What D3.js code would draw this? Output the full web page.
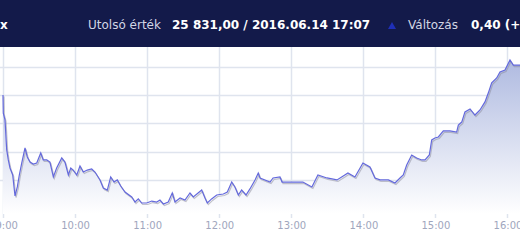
<!DOCTYPE html>
<html lang="hu">
<head>
<meta charset="UTF-8">
<title>Index intraday</title>
<style>
  body { margin: 0; background: #fff; }
  svg { display: block; }
</style>
</head>
<body>
<svg id="chart"></svg>
<script src="https://d3js.org/d3.v7.min.js"></script>
<script>
// intraday ticks
const times = ["9:00:00","9:00:15","9:01:40","9:03:05","9:04:25","9:05:50","9:08:05","9:10:00","9:11:55","9:13:35","9:15:35","9:18:20","9:20:15","9:22:30","9:25:15","9:28:05",
  "9:31:25","9:33:30","9:36:25","9:39:05","9:41:55","9:44:40","9:48:55","9:51:35","9:54:25","9:56:25","9:58:30",
  "10:01:25","10:04:05","10:06:50","10:10:10","10:13:50","10:16:35","10:20:45","10:23:30","10:26:50","10:29:40","10:32:25","10:35:10","10:38:00",
  "10:41:35","10:47:10","10:49:55","10:52:40","10:55:30","10:59:40",
  "11:03:50","11:08:00","11:10:40","11:13:30","11:17:35","11:20:55","11:23:10","11:27:25","11:31:30","11:35:40","11:38:25","11:43:25","11:45:25",
  "11:48:10","11:50:05","11:53:40","11:57:55",
  "12:03:25","12:06:45","12:10:25","12:13:05","12:15:55","12:18:40","12:22:20","12:25:35","12:29:50","12:32:30","12:34:00","12:42:20","12:44:50",
  "12:50:35","12:52:20",
  "13:01:25","13:09:40","13:17:10","13:22:10","13:29:40","13:38:05","13:47:10","13:53:00","13:59:40",
  "14:05:30","14:09:40","14:13:55","14:20:50","14:26:20","14:30:30","14:33:15","14:36:05","14:40:15","14:44:25","14:48:35","14:51:20","14:54:55",
  "14:56:55","14:59:35",
  "15:02:25","15:06:35","15:12:05","15:17:40","15:19:05","15:21:55","15:24:35","15:28:50","15:32:55","15:37:05","15:41:15","15:44:00","15:46:50",
  "15:51:00","15:53:45","15:57:55",
  "16:02:05","16:04:50","16:10:25"];
const values = [25810.2,25797.4,25792.5,25771.2,25764.1,25758.4,25753.4,25738.5,25744.9,25753.4,25761.9,25772.6,25766.2,25762.6,25761.2,25761.9,
  25769.0,25764.1,25764.1,25762.6,25752.0,25758.4,25765.5,25762.6,25753.4,25758.4,25756.9,
  25753.4,25759.8,25755.5,25756.9,25757.7,25755.5,25749.9,25744.2,25742.7,25752.0,25748.4,25749.9,25745.6,
  25741.3,25737.8,25734.2,25736.4,25733.5,25733.5,
  25734.9,25734.2,25735.6,25732.8,25734.2,25740.6,25734.2,25737.1,25735.6,25740.6,25737.8,25741.3,25742.7,
  25737.1,25733.5,25736.4,25739.2,
  25739.9,25741.3,25748.4,25744.9,25739.2,25742.7,25739.2,25743.5,25749.9,25754.8,25751.3,25748.4,25751.3,
  25752.0,25748.4,
  25748.4,25748.4,25744.9,25753.4,25751.3,25749.9,25754.8,25752.0,25761.9,
  25759.1,25751.3,25749.9,25749.9,25747.7,25751.3,25753.4,25760.5,25767.6,25765.5,25764.1,25764.1,25767.6,
  25778.3,25779.7,
  25780.4,25784.7,25784.7,25783.9,25788.9,25791.0,25798.2,25800.3,25796.0,25799.6,25805.3,25811.6,25818.8,
  25822.3,25826.6,25828.0,
  25835.1,25831.5,25831.5];
const xTickLabels = ["9:00","10:00","11:00","12:00","13:00","14:00","15:00","16:00"];
const yGrid = [25750, 25770, 25790, 25810, 25830];

const width = 520, height = 245;
const headerH = 47, plotBottom = 214;

const parse = d3.timeParse("%H:%M:%S");
const parseHM = d3.timeParse("%H:%M");
const data = times.map((t, i) => ({ t: parse(t), v: values[i] }));

const svg = d3.select("#chart").attr("width", width).attr("height", height);

const x = d3.scaleTime()
  .domain([parseHM("9:00"), parseHM("16:10")])
  .range([3, 519.5]);
const y = d3.scaleLinear()
  .domain([25725.7, 25842.9])
  .range([plotBottom, 49]);

const defs = svg.append("defs");
const grad = defs.append("linearGradient")
  .attr("id", "fill").attr("gradientUnits", "userSpaceOnUse")
  .attr("x1", 0).attr("y1", 49).attr("x2", 0).attr("y2", plotBottom);
grad.append("stop").attr("offset", "0%").attr("stop-color", "#a9b5de");
grad.append("stop").attr("offset", "100%").attr("stop-color", "#ffffff");

// grid
svg.append("g")
  .selectAll("line").data(yGrid).join("line")
  .attr("x1", 0).attr("x2", width)
  .attr("y1", d => Math.round(y(d)) + 0.5).attr("y2", d => Math.round(y(d)) + 0.5)
  .attr("stroke", "#dfe4ee").attr("stroke-width", 1.5);

const xTicks = xTickLabels.map(parseHM);
svg.append("g")
  .selectAll("line").data(xTicks).join("line")
  .attr("x1", d => Math.round(x(d)) + 0.5).attr("x2", d => Math.round(x(d)) + 0.5)
  .attr("y1", headerH).attr("y2", 218)
  .attr("stroke", "#dfe4ee").attr("stroke-width", 1.5);

// area + line
const area = d3.area().x(d => x(d.t)).y0(plotBottom).y1(d => y(d.v));
const line = d3.line().x(d => x(d.t)).y(d => y(d.v));

svg.append("path").datum(data).attr("d", area).attr("fill", "url(#fill)");
svg.append("path").datum(data).attr("d", line)
  .attr("transform", "translate(1,1.5)")
  .attr("fill", "none").attr("stroke", "#8a8a9a").attr("stroke-opacity", 0.5).attr("stroke-width", 1.2);
svg.append("path").datum(data).attr("d", line)
  .attr("fill", "none").attr("stroke", "#6469dc").attr("stroke-width", 1.2);

// x axis labels
const xAxis = d3.axisBottom(x).tickValues(xTicks).tickFormat(d3.timeFormat("%H:%M")).tickSize(0).tickPadding(0);
const gx = svg.append("g").attr("transform", "translate(0,222)").call(xAxis);
gx.select(".domain").remove();
gx.selectAll("text")
  .attr("fill", "#a0a6bd")
  .style("font-family", "'DejaVu Sans', sans-serif")
  .style("font-size", "10px");

// header band
svg.append("rect").attr("x", 0).attr("y", 0).attr("width", width).attr("height", headerH).attr("fill", "#131a4a");
const hdr = svg.append("g").style("font-family", "Tahoma, 'DejaVu Sans', sans-serif").style("font-size", "12px");
hdr.append("text").attr("x", 0).attr("y", 29).attr("fill", "#ffffff").attr("font-weight", "bold").text("x");
hdr.append("text").attr("x", 88).attr("y", 29).attr("fill", "#d2d6e4").text("Utolsó érték");
hdr.append("text").attr("x", 172).attr("y", 29).attr("fill", "#ffffff").attr("font-weight", "bold").text("25 831,00 / 2016.06.14 17:07");
hdr.append("path").attr("d", "M388,29 L396,29 L392,22 Z").attr("fill", "#1f2fb8");
hdr.append("text").attr("x", 408).attr("y", 29).attr("fill", "#d2d6e4").text("Változás");
hdr.append("text").attr("x", 471).attr("y", 29).attr("fill", "#ffffff").attr("font-weight", "bold").text("0,40 (+0,00%)");
</script>
</body>
</html>
